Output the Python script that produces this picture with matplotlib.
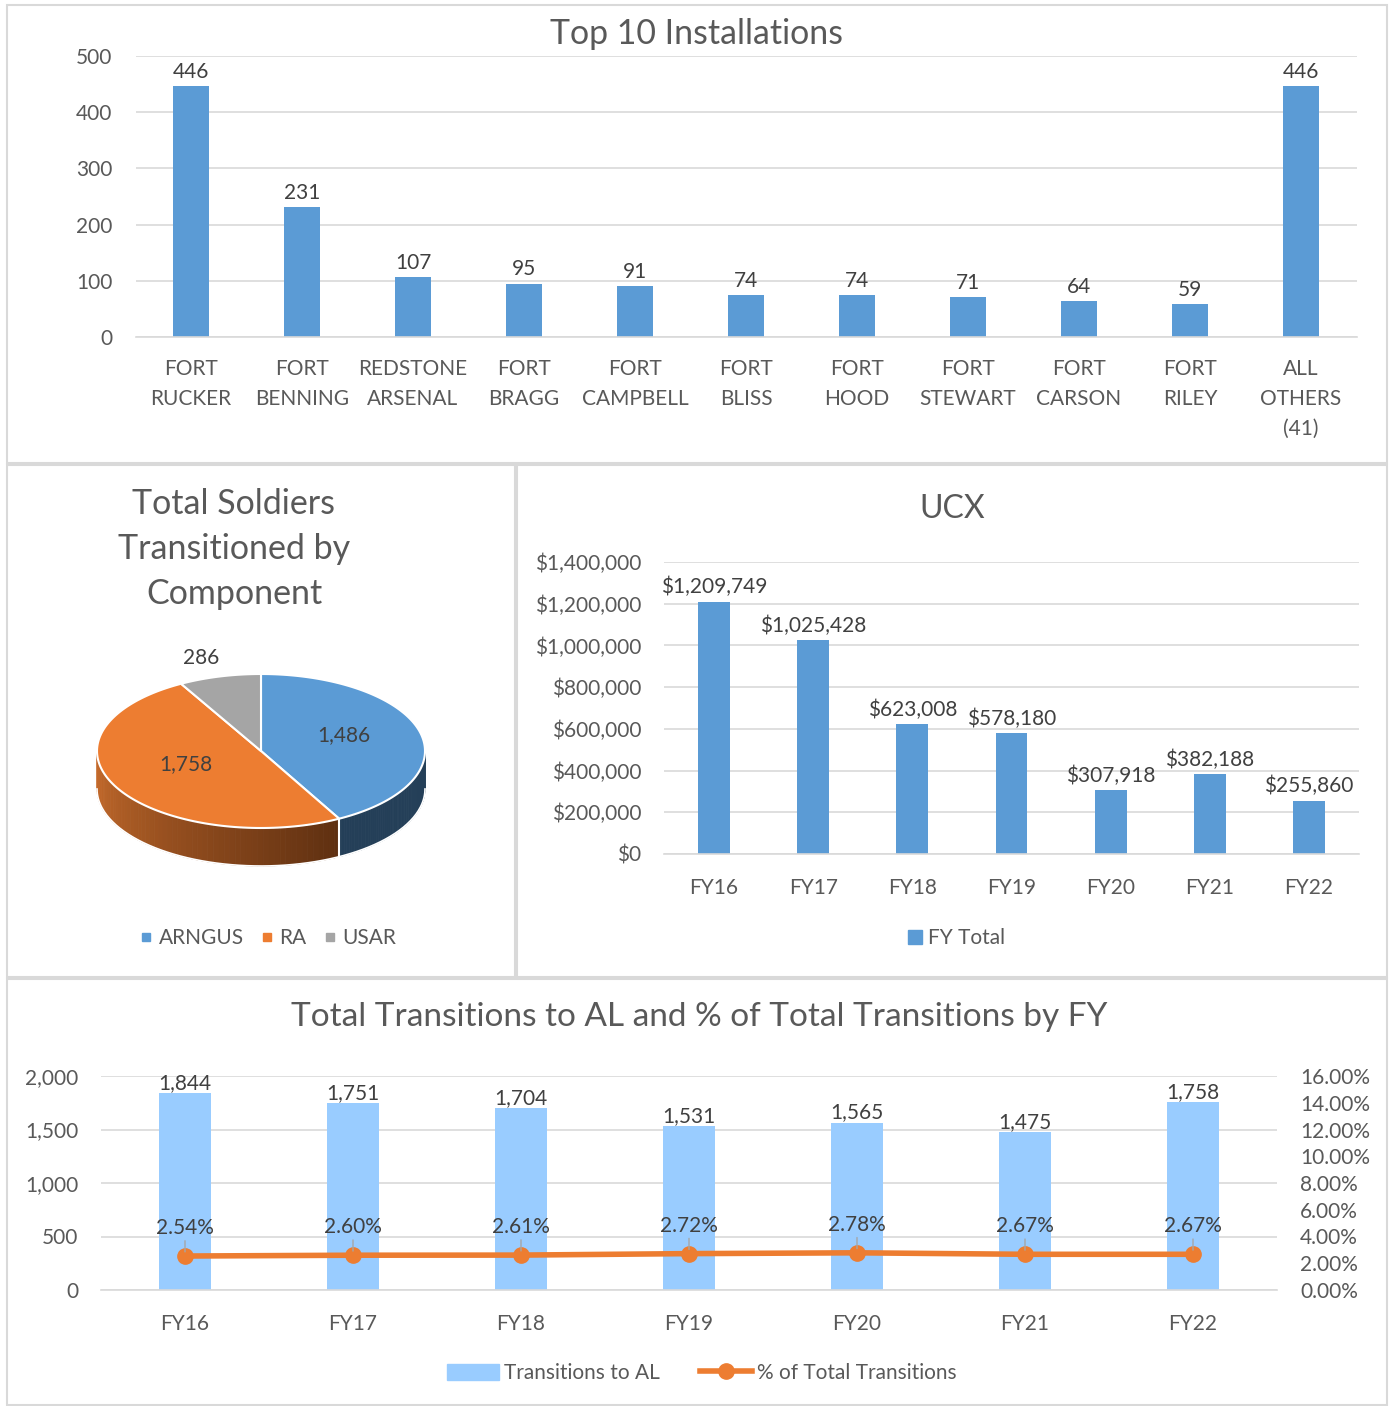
import matplotlib
matplotlib.use("Agg")
import matplotlib.pyplot as plt
from matplotlib.patches import Rectangle, Polygon
from matplotlib.lines import Line2D
import numpy as np

plt.rcParams['font.family'] = ['Lato', 'DejaVu Sans']

# data
installations = ["FORT\nRUCKER", "FORT\nBENNING", "REDSTONE\nARSENAL", "FORT\nBRAGG",
                 "FORT\nCAMPBELL", "FORT\nBLISS", "FORT\nHOOD", "FORT\nSTEWART",
                 "FORT\nCARSON", "FORT\nRILEY", "ALL\nOTHERS\n(41)"]
inst_counts = [446, 231, 107, 95, 91, 74, 74, 71, 64, 59, 446]

components = ["ARNGUS", "RA", "USAR"]
comp_counts = [1486, 1758, 286]

fy = ["FY16", "FY17", "FY18", "FY19", "FY20", "FY21", "FY22"]
ucx_total = [1209749, 1025428, 623008, 578180, 307918, 382188, 255860]
transitions_al = [1844, 1751, 1704, 1531, 1565, 1475, 1758]
pct_total = [2.54, 2.60, 2.61, 2.72, 2.78, 2.67, 2.67]

W, H = 1392, 1406
BLUE = "#5B9BD5"
ORANGE = "#ED7D31"
GRAY = "#A5A5A5"
LIGHTBLUE = "#99CCFF"
GRID = "#D9D9D9"
TICK = "#595959"
LABEL = "#404040"
FS = 15

fig = plt.figure(figsize=(W / 100, H / 100), dpi=100)


def box(x0, y0, x1, y1):
    return [x0 / W, 1 - y1 / H, (x1 - x0) / W, (y1 - y0) / H]


def fx(x):
    return x / W


def fy_(y):
    return 1 - y / H


def style_axes(ax):
    for s in ["top", "right", "left"]:
        ax.spines[s].set_visible(False)
    ax.spines["bottom"].set_color(GRID)
    ax.spines["bottom"].set_linewidth(1.2)
    ax.tick_params(length=0, labelsize=FS, labelcolor=TICK)
    ax.tick_params(axis="y", pad=16.5)
    ax.tick_params(axis="x", pad=17)
    ax.yaxis.grid(True, color=GRID, linewidth=1.2)
    ax.set_axisbelow(True)


# panel borders
for (x0, y0, x1, y1) in [(7, 5, 1387, 463), (7, 465, 515, 977), (517, 465, 1387, 977), (7, 979, 1387, 1405)]:
    fig.add_artist(Rectangle((fx(x0), fy_(y1)), (x1 - x0) / W, (y1 - y0) / H,
                             transform=fig.transFigure, fill=False, ec=GRID, lw=1.5))

# ---- top 10 installations
ax1 = fig.add_axes(box(135.5, 56, 1356.5, 337))
x = np.arange(len(installations))
ax1.bar(x, inst_counts, width=0.32, color=BLUE)
ax1.set_xlim(-0.5, len(installations) - 0.5)
ax1.set_ylim(0, 500)
ax1.set_yticks(range(0, 501, 100))
ax1.set_xticks(x)
ax1.set_xticklabels(installations, linespacing=1.6, va="top")
style_axes(ax1)
ax1.tick_params(axis="x", pad=16)
for xi, v in zip(x, inst_counts):
    ax1.annotate(str(v), (xi, v), xytext=(0, 3), textcoords="offset points",
                 ha="center", va="bottom", fontsize=FS, color=LABEL)
fig.text(fx(697), fy_(34), "Top 10 Installations", ha="center", va="center", fontsize=24.4, color=TICK)

# ---- pie (3D look)
axp = fig.add_axes(box(20, 620, 500, 900))
axp.set_xlim(20, 500)
axp.set_ylim(900, 620)
axp.axis("off")
cx, cy, rx, ry, depth = 261, 751, 164, 77, 38
total = sum(comp_counts)
angles = [90]
for v in comp_counts:
    angles.append(angles[-1] - 360 * v / total)
top_colors = [BLUE, ORANGE, GRAY]


def ell(t):
    t = np.radians(t)
    return cx + rx * np.cos(t), cy - ry * np.sin(t)


# side walls (front half only: angles -180..0)
for i in range(len(comp_counts)):
    a1, a2 = angles[i + 1], angles[i]
    for shift in (0, -360):
        lo, hi = max(a1 - shift, -180), min(a2 - shift, 0)
        if lo >= hi:
            continue
        n = 60
        ts = np.linspace(lo, hi, n + 1)
        for k in range(n):
            seg = np.linspace(ts[k], ts[k + 1], 4)
            xs, ys = ell(seg)
            pts = list(zip(xs, ys)) + list(zip(xs[::-1], ys[::-1] + depth))
            if i == 0:
                col = "#243F58"
            elif i == 1:
                f = (ts[k] + 180) / 120.0
                f = min(max(f, 0), 1)
                c0 = np.array([0xC8, 0x6C, 0x2C]) / 255
                c1 = np.array([0x5C, 0x2E, 0x10]) / 255
                col = tuple(c0 + (c1 - c0) * f)
            else:
                col = "#6E6E6E"
            axp.add_patch(Polygon(pts, closed=True, fc=col, ec=col, lw=0.6))

# wall outline
ts = np.linspace(-180, 0, 200)
xs, ys = ell(ts)
axp.plot(xs, ys + depth, color="white", lw=1.2)
for a in angles:
    aa = ((a + 180) % 360) - 180
    if -180 <= aa <= 0:
        px, py = ell(aa)
        axp.plot([px, px], [py, py + depth], color="white", lw=1.5)

# top surface
for i in range(len(comp_counts)):
    ts = np.linspace(angles[i], angles[i + 1], 120)
    xs, ys = ell(ts)
    pts = [(cx, cy)] + list(zip(xs, ys))
    axp.add_patch(Polygon(pts, closed=True, fc=top_colors[i], ec="white", lw=1.5, joinstyle="round"))

for i, v in enumerate(comp_counts):
    t = np.radians((angles[i] + angles[i + 1]) / 2)
    if v / total < 0.15:
        lx, ly = cx + 1.45 * rx * np.cos(t), cy - 1.2 * ry * np.sin(t) - 4
    else:
        lx, ly = cx + 0.52 * rx * np.cos(t), cy - 0.52 * ry * np.sin(t) - 6
    axp.text(lx, ly, f"{v:,}", ha="center", va="center", fontsize=FS, color=LABEL)

fig.text(fx(234), fy_(549), "Total Soldiers\nTransitioned by\nComponent", ha="center", va="center",
         fontsize=24.5, color=TICK, linespacing=1.5)
ph = [Line2D([], [], marker="s", ls="", color=c, markersize=6) for c in top_colors]
fig.legend(ph, components, loc="center", bbox_to_anchor=(fx(266), fy_(938)), ncol=3, frameon=False,
           fontsize=FS, labelcolor=TICK, handletextpad=0.1, columnspacing=0.6, handlelength=1.0)

# ---- UCX
ax2 = fig.add_axes(box(664.4, 562, 1358.6, 854))
x2 = np.arange(len(fy))
ax2.bar(x2, ucx_total, width=0.32, color=BLUE)
ax2.set_xlim(-0.5, len(fy) - 0.5)
ax2.set_ylim(0, 1400000)
ax2.set_yticks(range(0, 1400001, 200000))
ax2.set_yticklabels([f"${v:,}" for v in range(0, 1400001, 200000)])
ax2.set_xticks(x2)
ax2.set_xticklabels(fy)
style_axes(ax2)
for xi, v in zip(x2, ucx_total):
    ax2.annotate(f"${v:,}", (xi, v), xytext=(0, 3), textcoords="offset points",
                 ha="center", va="bottom", fontsize=FS, color=LABEL)
fig.text(fx(952), fy_(509), "UCX", ha="center", va="center", fontsize=23, color=TICK)
fig.legend([Line2D([], [], marker="s", ls="", color=BLUE, markersize=10)], ["FY Total"], loc="center",
           bbox_to_anchor=(fx(955), fy_(938)), frameon=False, fontsize=FS, labelcolor=TICK,
           handletextpad=0.1, handlelength=1.0)

# ---- bottom combo
ax3 = fig.add_axes(box(101, 1076, 1277, 1290))
x3 = np.arange(len(fy))
ax3.bar(x3, transitions_al, width=0.315, color=LIGHTBLUE, label="Transitions to AL")
ax3.set_xlim(-0.5, len(fy) - 0.5)
ax3.set_ylim(0, 2000)
ax3.set_yticks(range(0, 2001, 500))
ax3.set_yticklabels([f"{v:,}" for v in range(0, 2001, 500)])
ax3.set_xticks(x3)
ax3.set_xticklabels(fy)
style_axes(ax3)
for xi, v in zip(x3, transitions_al):
    ax3.annotate(f"{v:,}", (xi, v), xytext=(0, 0), textcoords="offset points",
                 ha="center", va="bottom", fontsize=FS, color=LABEL)

ax4 = ax3.twinx()
pct = np.array(pct_total) / 100
ax4.plot(x3, pct, color=ORANGE, lw=4, marker="o", markersize=11, label="% of Total Transitions")
ax4.set_ylim(0, 0.16)
ax4.set_yticks(np.arange(0, 0.1601, 0.02))
ax4.set_yticklabels([f"{v:.2f}%" for v in np.arange(0, 16.01, 2)])
for s in ax4.spines.values():
    s.set_visible(False)
ax4.tick_params(length=0, labelsize=FS, labelcolor=TICK, pad=16.5)
for xi, v, p in zip(x3, pct, pct_total):
    ax4.annotate(f"{p:.2f}%", (xi, v), xytext=(0, 13), textcoords="offset points",
                 ha="center", va="bottom", fontsize=FS, color=LABEL,
                 arrowprops=dict(arrowstyle="-", color="#A6A6A6", lw=1, shrinkA=0, shrinkB=3))

fig.text(fx(699), fy_(1017), "Total Transitions to AL and % of Total Transitions by FY",
         ha="center", va="center", fontsize=24, color=TICK)
h1 = Rectangle((0, 0), 1, 1, color=LIGHTBLUE)
h2 = Line2D([], [], color=ORANGE, lw=4, marker="o", markersize=11)
fig.legend([h1, h2], ["Transitions to AL", "% of Total Transitions"], loc="center",
           bbox_to_anchor=(fx(702), fy_(1373)), ncol=2, frameon=False, fontsize=FS, labelcolor=TICK,
           handletextpad=0.25, columnspacing=1.9, handlelength=2.5, handleheight=0.8)

fig.savefig("out.png", dpi=100, facecolor="white")
